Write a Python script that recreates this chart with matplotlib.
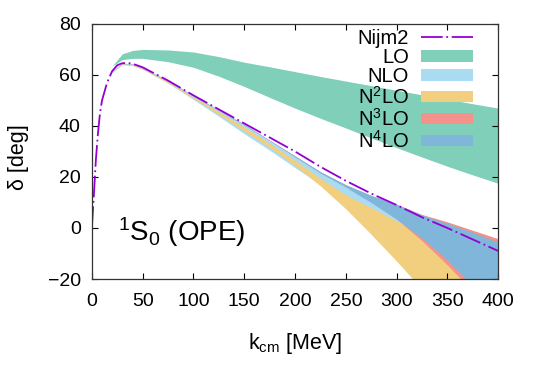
import numpy as np
import matplotlib.pyplot as plt
from matplotlib.patches import Patch
from matplotlib.lines import Line2D

plt.rcParams['font.family'] = ['Liberation Sans', 'DejaVu Sans']
plt.rcParams['mathtext.fontset'] = 'custom'
plt.rcParams['mathtext.rm'] = 'Liberation Sans'
plt.rcParams['mathtext.default'] = 'regular'

# Nijm2 phase shifts
k_nijm = [0, 2, 4, 6, 8, 10, 15, 20, 25, 30, 35, 40, 50, 75, 100, 125, 150,
          175, 200, 225, 250, 275, 300, 325, 350, 375, 400]
d_nijm = [0, 13, 27, 37, 45, 50, 57, 61.5, 63.8, 64.6, 64.7, 64.4, 63, 57.8, 52,
          46.5, 41, 35.5, 30, 24, 18.5, 13.5, 9, 4.2, 0, -4.5, -9]

# band momenta
k_band = [20, 30, 40, 50, 75, 100, 125, 150, 175, 200, 225, 250, 275, 300,
          325, 350, 375, 400]

lo_up = [63.5, 68.3, 69.6, 70, 69.8, 69, 67.2, 65, 63.2, 61.3, 59.4, 57.6,
         55.8, 54, 52.2, 50.5, 48.7, 47]
lo_lo = [63.5, 66, 66.5, 66.5, 65.2, 63, 59.5, 55.5, 51.2, 47, 43, 39.2,
         35.3, 31.5, 27.8, 24.2, 20.8, 17.5]

nlo_up = [61.3, 64.4, 64.2, 62.8, 57.5, 51.6, 46, 40.3, 34, 27.8, 21.6, 16,
          10.8, 6, 1.2, -3, -7.5, -12]
nlo_lo = [61, 64, 63.7, 62.2, 56.8, 50.4, 43.8, 37, 30.5, 23.7, 17, 9,
          0, -10, -20, -30, -40, -50]

n2lo_up = [61.3, 64.4, 64.2, 62.7, 57.4, 51.4, 45.6, 39.6, 33.2, 26.5, 19.5,
           13, 8, 2.7, -2, -5, -8, -11]
n2lo_lo = [61.1, 64.1, 63.8, 62.3, 56.9, 50.8, 44.5, 38, 31.5, 24.5, 16.5,
           7.5, -2.5, -13, -24, -35, -46, -57]

n3lo_up = [61.4, 64.5, 64.3, 62.9, 57.7, 51.8, 46.2, 40.6, 34.4, 28.2, 22,
           16.9, 12.7, 9.3, 5.3, 2.4, -0.9, -4.2]
n3lo_lo = [61.4, 64.5, 64.3, 62.9, 57.6, 51.7, 46.1, 40.4, 34.2, 27.9, 21.6,
           16.1, 10.1, 3.5, -5, -14.5, -25, -36]

n4lo_up = [61.5, 64.6, 64.4, 63, 57.8, 51.9, 46.3, 40.7, 34.4, 28.3, 22.1, 17,
           12.8, 9.3, 5.1, 1.8, -1.7, -5.6]
n4lo_lo = [61.3, 64.4, 64.2, 62.8, 57.5, 51.6, 46, 40.3, 34.1, 27.8, 21.5, 16,
           10, 3.5, -4, -12.5, -23, -34]

bands = [
    ("LO", lo_lo, lo_up, "#80cfb9"),
    ("NLO", nlo_lo, nlo_up, "#a9dcf3"),
    ("N$^2$LO", n2lo_lo, n2lo_up, "#f2cf7e"),
    ("N$^3$LO", n3lo_lo, n3lo_up, "#f2928a"),
    ("N$^4$LO", n4lo_lo, n4lo_up, "#7fb6d9"),
]

fig = plt.figure(figsize=(5.34, 3.74), dpi=100)
ax = fig.add_axes([0.172, 0.254, 0.761, 0.682])

handles = []
for name, lo, up, col in bands:
    ax.fill_between(k_band, lo, up, color=col, lw=0)
    handles.append(Patch(facecolor=col, edgecolor='none', label=name))

nijm_ls = (0, (12, 2, 1, 2))
ax.plot(k_nijm, d_nijm, color='#9400d3', lw=1.3, ls=nijm_ls)
nijm_handle = Line2D([], [], color='#9400d3', lw=1.3, ls=nijm_ls, label='Nijm2')

ax.set_xlim(0, 400)
ax.set_ylim(-20, 80)
ax.set_xticks(np.arange(0, 401, 50))
ax.set_yticks(np.arange(-20, 81, 20))
ax.tick_params(direction='in', top=True, right=True, length=4, width=0.8,
               labelsize=14)
ax.tick_params(axis='x', pad=10)
ax.tick_params(axis='y', pad=8)
for s in ax.spines.values():
    s.set_linewidth(0.9)
    s.set_color('#333333')

ax.set_xlabel('k$_{cm}$ [MeV]', fontsize=15.5, labelpad=15)
ax.set_ylabel('δ [deg]', fontsize=15.5)
ax.yaxis.set_label_coords(-0.155, 0.476)

ax.text(0.064, 0.15, '$^1$S$_0$ (OPE)', transform=ax.transAxes,
        fontsize=20, va='baseline')

ax.legend(handles=[nijm_handle] + handles, loc='upper right',
          bbox_to_anchor=(1 - 25 / 406, 1 - 5 / 255), frameon=False,
          markerfirst=False, fontsize=14.5, handlelength=2.6,
          handleheight=0.5, labelspacing=0.0, handletextpad=0.6,
          borderaxespad=0, borderpad=0)

fig.savefig('out.png', dpi=100)
